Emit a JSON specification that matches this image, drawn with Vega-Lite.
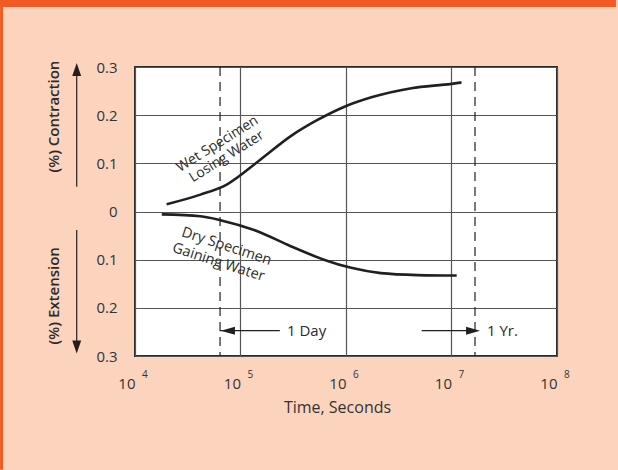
{
  "$schema": "https://vega.github.io/schema/vega-lite/v6.json",
  "width": 422,
  "height": 289,
  "autosize": {"type": "none"},
  "padding": {"left": 135, "top": 67, "right": 61, "bottom": 114},
  "background": "#FCD4BE",
  "datasets": {
    "curves": [
      {"series": "Wet", "t": 19950, "v": 0.015},
      {"series": "Wet", "t": 41700, "v": 0.035},
      {"series": "Wet", "t": 74100, "v": 0.056},
      {"series": "Wet", "t": 155000, "v": 0.108},
      {"series": "Wet", "t": 302000, "v": 0.157},
      {"series": "Wet", "t": 537000, "v": 0.19},
      {"series": "Wet", "t": 955000, "v": 0.217},
      {"series": "Wet", "t": 1740000, "v": 0.237},
      {"series": "Wet", "t": 4170000, "v": 0.256},
      {"series": "Wet", "t": 10000000, "v": 0.265},
      {"series": "Wet", "t": 12450000, "v": 0.268},
      {"series": "Dry", "t": 17950, "v": -0.006},
      {"series": "Dry", "t": 41700, "v": -0.01},
      {"series": "Dry", "t": 64600, "v": -0.018},
      {"series": "Dry", "t": 144500, "v": -0.041},
      {"series": "Dry", "t": 299000, "v": -0.072},
      {"series": "Dry", "t": 617000, "v": -0.1},
      {"series": "Dry", "t": 1120000, "v": -0.117},
      {"series": "Dry", "t": 2140000, "v": -0.128},
      {"series": "Dry", "t": 4790000, "v": -0.132},
      {"series": "Dry", "t": 11200000, "v": -0.133}
    ],
    "wetLabels": [
      {"text": "Wet Specimen", "t": 60500, "v": 0.14},
      {"text": "Losing Water", "t": 74000, "v": 0.114}
    ],
    "dryLabels": [
      {"text": "Dry Specimen", "t": 73600, "v": -0.073},
      {"text": "Gaining Water", "t": 61700, "v": -0.106}
    ],
    "sideTitles": [
      {"text": "(%) Contraction", "t": 1689, "v": 0.197},
      {"text": "(%) Extension", "t": 1689, "v": -0.175}
    ],
    "sideArrows": [
      {"t": 2802, "v": 0.0515, "v2": 0.295},
      {"t": 2802, "v": -0.0384, "v2": -0.281}
    ],
    "heads": [
      {"dir": "up", "t": 2802, "v": 0.295},
      {"dir": "down", "t": 2802, "v": -0.2813},
      {"dir": "left", "t": 76000, "v": -0.2474},
      {"dir": "right", "t": 16000000, "v": -0.2474}
    ],
    "spanArrows": [
      {"t": 64000, "t2": 236000, "v": -0.2474},
      {"t": 5220000, "t2": 16000000, "v": -0.2474}
    ],
    "periods": [
      {"name": "1 Day", "t": 64000},
      {"name": "1 Yr.", "t": 16700000}
    ],
    "periodText": [
      {"text": "1 Day", "t": 276000, "v": -0.2474},
      {"text": "1 Yr.", "t": 21700000, "v": -0.2474}
    ],
    "decades": [
      {"t": 10000, "exp": "4"},
      {"t": 100000, "exp": "5"},
      {"t": 1000000, "exp": "6"},
      {"t": 10000000, "exp": "7"},
      {"t": 100000000, "exp": "8"}
    ],
    "blank": [{"k": 1}]
  },
  "config": {
    "view": {"stroke": "#2b2b2b", "strokeWidth": 2, "fill": "white"},
    "font": "Open Sans",
    "axis": {
      "labelFont": "Open Sans",
      "labelColor": "#333333",
      "labelFontSize": 15,
      "titleFont": "Open Sans",
      "titleColor": "#333333",
      "titleFontSize": 16,
      "titleFontWeight": "normal",
      "gridColor": "#555555",
      "gridWidth": 1.2,
      "ticks": false,
      "domain": false
    },
    "text": {"font": "Open Sans", "color": "#2b2b2b"}
  },
  "layer": [
    {
      "data": {"name": "curves"},
      "mark": {"type": "line", "color": "#231F20", "strokeWidth": 2.6, "interpolate": "monotone"},
      "encoding": {
        "x": {
          "field": "t", "type": "quantitative",
          "scale": {"type": "log", "domain": [10000, 100000000], "nice": false},
          "axis": {
            "values": [10000, 100000, 1000000, 10000000, 100000000],
            "labelExpr": "'10'",
            "labelAlign": "right",
            "labelBaseline": "alphabetic",
            "labelPadding": 32,
            "labelDx": 2,
            "ticks": false,
            "domain": false,
            "labelFlush": false,
            "labelOverlap": false,
            "grid": true,
            "title": "Time, Seconds",
            "titlePadding": 8,
            "titleX": 202
          }
        },
        "y": {
          "field": "v", "type": "quantitative",
          "scale": {"domain": [-0.3, 0.3], "nice": false, "zero": false},
          "axis": {
            "values": [-0.3, -0.2, -0.1, 0, 0.1, 0.2, 0.3],
            "labelExpr": "datum.value == 0 ? '0' : format(abs(datum.value), '.1f')",
            "labelPadding": 18,
            "ticks": false,
            "domain": false,
            "labelFlush": false,
            "labelOverlap": false,
            "grid": true,
            "title": null
          }
        },
        "detail": {"field": "series"}
      }
    },
    {
      "data": {"name": "blank"},
      "mark": {"type": "rect", "color": "#F15A24", "clip": false},
      "encoding": {
        "x": {"datum": 526, "type": "quantitative"},
        "x2": {"datum": 362000000},
        "y": {"datum": 0.4391, "type": "quantitative"},
        "y2": {"datum": 0.4246}
      }
    },
    {
      "data": {"name": "blank"},
      "mark": {"type": "rect", "color": "#F15A24", "clip": false},
      "encoding": {
        "x": {"datum": 526, "type": "quantitative"},
        "x2": {"datum": 561},
        "y": {"datum": 0.4391, "type": "quantitative"},
        "y2": {"datum": -0.536}
      }
    },
    {
      "data": {"name": "periods"},
      "mark": {"type": "rule", "color": "#231F20", "strokeWidth": 1.2, "strokeDash": [9, 6]},
      "encoding": {
        "x": {"field": "t", "type": "quantitative"}
      }
    },
    {
      "data": {"name": "spanArrows"},
      "mark": {"type": "rule", "color": "#231F20", "strokeWidth": 1.2},
      "encoding": {
        "x": {"field": "t", "type": "quantitative"},
        "x2": {"field": "t2"},
        "y": {"field": "v", "type": "quantitative"}
      }
    },
    {
      "data": {"name": "sideArrows"},
      "mark": {"type": "rule", "color": "#231F20", "strokeWidth": 1.2, "clip": false},
      "encoding": {
        "x": {"field": "t", "type": "quantitative"},
        "y": {"field": "v", "type": "quantitative"},
        "y2": {"field": "v2"}
      }
    },
    {
      "data": {"name": "heads"},
      "mark": {"type": "point", "filled": true, "color": "#231F20", "opacity": 1, "size": 196, "clip": false},
      "encoding": {
        "x": {"field": "t", "type": "quantitative"},
        "y": {"field": "v", "type": "quantitative"},
        "shape": {
          "field": "dir", "type": "nominal", "legend": null,
          "scale": {
            "domain": ["up", "down", "left", "right"],
            "range": ["M0,-0.93L0.64,0.93L-0.64,0.93Z", "M0,0.93L0.64,-0.93L-0.64,-0.93Z", "M-1,0L1,-0.57L1,0.57Z", "M1,0L-1,-0.57L-1,0.57Z"]
          }
        }
      }
    },
    {
      "data": {"name": "periodText"},
      "mark": {"type": "text", "align": "left", "baseline": "middle", "fontSize": 15},
      "encoding": {
        "x": {"field": "t", "type": "quantitative"},
        "y": {"field": "v", "type": "quantitative"},
        "text": {"field": "text"}
      }
    },
    {
      "data": {"name": "wetLabels"},
      "mark": {"type": "text", "align": "center", "baseline": "middle", "fontSize": 14, "angle": 328},
      "encoding": {
        "x": {"field": "t", "type": "quantitative"},
        "y": {"field": "v", "type": "quantitative"},
        "text": {"field": "text"}
      }
    },
    {
      "data": {"name": "dryLabels"},
      "mark": {"type": "text", "align": "center", "baseline": "middle", "fontSize": 14.5, "angle": 18},
      "encoding": {
        "x": {"field": "t", "type": "quantitative"},
        "y": {"field": "v", "type": "quantitative"},
        "text": {"field": "text"}
      }
    },
    {
      "data": {"name": "sideTitles"},
      "mark": {"type": "text", "align": "center", "baseline": "middle", "fontSize": 15, "fontWeight": 600, "angle": 270, "clip": false},
      "encoding": {
        "x": {"field": "t", "type": "quantitative"},
        "y": {"field": "v", "type": "quantitative"},
        "text": {"field": "text"}
      }
    },
    {
      "data": {"name": "decades"},
      "mark": {"type": "text", "align": "left", "baseline": "alphabetic", "fontSize": 10, "dx": 7, "dy": 22, "clip": false, "color": "#333333"},
      "encoding": {
        "x": {"field": "t", "type": "quantitative"},
        "y": {"datum": -0.3, "type": "quantitative"},
        "text": {"field": "exp"}
      }
    }
  ]
}
